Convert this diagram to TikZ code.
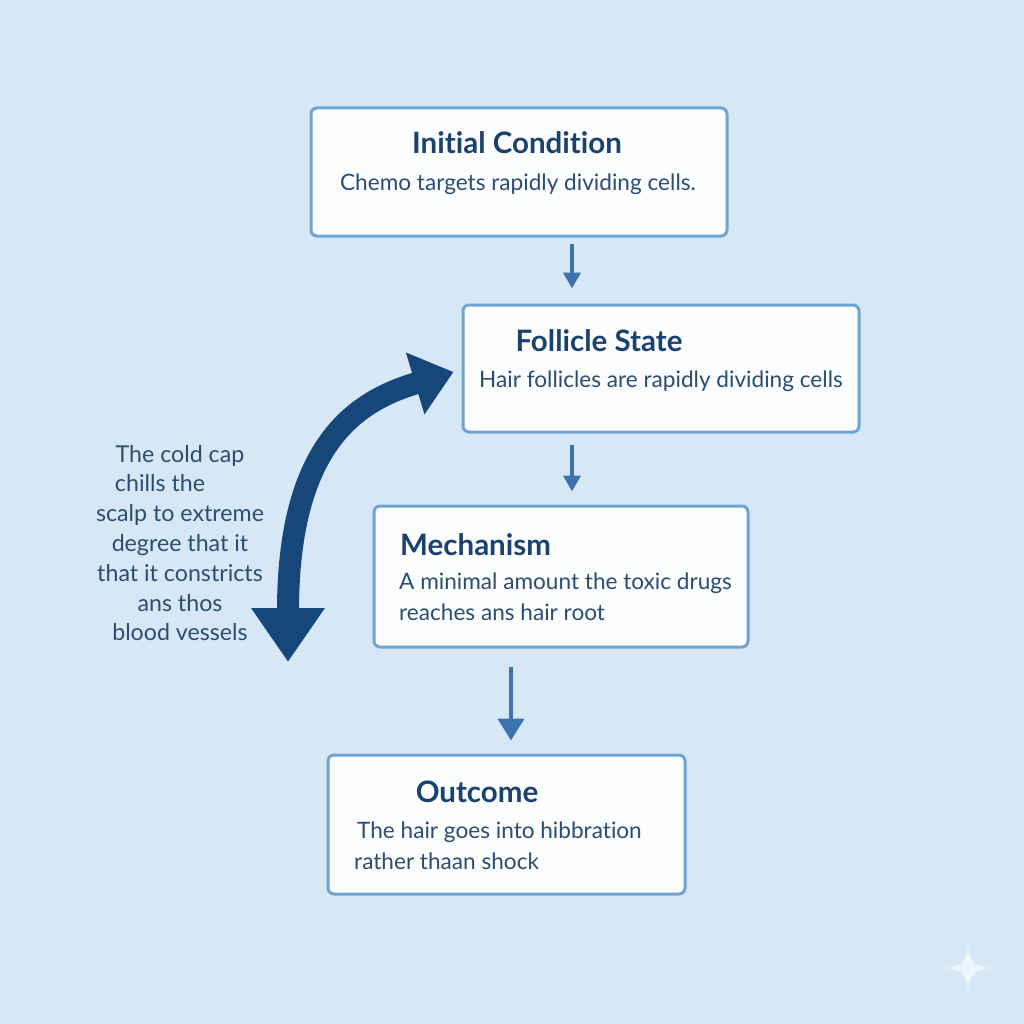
\documentclass[tikz,border=0pt]{standalone}
\usepackage{fontspec}
\setmainfont{Lato}[Ligatures={NoCommon}]
\usetikzlibrary{arrows.meta}
\definecolor{bgblue}{HTML}{D6E8F5}
\definecolor{boxline}{HTML}{6FA3D3}
\definecolor{boxfill}{HTML}{FBFDFF}
\definecolor{titlecol}{HTML}{1B426E}
\definecolor{bodycol}{HTML}{2B4D72}
\definecolor{flowcol}{HTML}{3D72AD}
\definecolor{navy}{HTML}{17467A}
\definecolor{sparkcol}{HTML}{EEF5FB}
\tikzset{
  panel/.style={draw=boxline, line width=3pt, fill=boxfill, rounded corners=6pt, inner sep=0pt},
  titletext/.style={inner sep=0pt, text=titlecol, font=\fontsize{29.5}{34}\selectfont\bfseries},
  bodytext/.style={inner sep=0pt, text=bodycol, font=\fontsize{22.6}{30.5}\selectfont},
  sidetext/.style={inner sep=0pt, text=bodycol, font=\fontsize{23.2}{29.8}\selectfont, align=center},
  flow/.style={draw=flowcol, line width=4pt, -{Triangle[length=16pt,width=17pt]}},
  bigflow/.style={draw=flowcol, line width=4.5pt, -{Triangle[length=22pt,width=26pt]}},
  curvearrow/.style={draw=navy, line width=22pt, {Triangle[length=54pt,width=70pt]}-{Triangle[length=40pt,width=62pt]}}
}
\begin{document}
\begin{tikzpicture}[x=1pt,y=-1pt]
\useasboundingbox (0,0) rectangle (1024,1024);
\fill[bgblue] (0,0) rectangle (1024,1024);

% boxes
\node[panel, minimum width=416pt, minimum height=128pt] (b1) at (519,172) {};
\node[panel, minimum width=396pt, minimum height=127pt] (b2) at (661,368.5) {};
\node[panel, minimum width=374pt, minimum height=141pt] (b3) at (561,576.5) {};
\node[panel, minimum width=357pt, minimum height=139pt] (b4) at (506.5,824.5) {};

% texts
\node[titletext] (t1) at (517,143) {Initial Condition};
\node[bodytext] (d1) at (518,184) {Chemo targets rapidly dividing cells.};
\node[titletext] (t2) at (599,341) {Follicle State};
\node[bodytext] (d2) at (661,381) {Hair follicles are rapidly dividing cells};
\node[titletext, anchor=west] (t3) at (400,545) {Mechanism};
\node[bodytext, anchor=west, align=left] (d3) at (399,597) {A minimal amount the toxic drugs\\reaches ans hair root};
\node[titletext] (t4) at (477,792) {Outcome};
\node[bodytext, anchor=west, align=left] (d4) at (354,846) {\hspace*{3pt}The hair goes into hibbration\\rather thaan shock};

\node[sidetext] (side) at (180,543) {The cold cap\\chills the\rule{40pt}{0pt}\\scalp to extreme\\degree that it\\that it constricts\\ans thos\\blood vessels};

% flow arrows
\draw[flow] ([xshift=53pt,yshift=-6pt]b1.south) -- ([xshift=-89pt,yshift=15pt]b2.north);
\draw[flow] ([xshift=-89pt,yshift=-11pt]b2.south) -- ([xshift=11pt,yshift=13pt]b3.north);
\draw[bigflow] ([xshift=-50pt,yshift=-18pt]b3.south) -- ([xshift=4.5pt,yshift=13pt]b4.north);

% big curved arrow
\coordinate (cs) at (288,662);
\draw[curvearrow] (cs) .. controls (288,440) and (360,400) .. ([xshift=-8pt,yshift=-3.5pt]b2.west);

% sparkle
\fill[sparkcol] (968,944) .. controls (969,962) and (974,967) .. (992,968)
  .. controls (974,969) and (969,974) .. (968,992)
  .. controls (967,974) and (962,969) .. (944,968)
  .. controls (962,967) and (967,962) .. (968,944) -- cycle;
\end{tikzpicture}
\end{document}
